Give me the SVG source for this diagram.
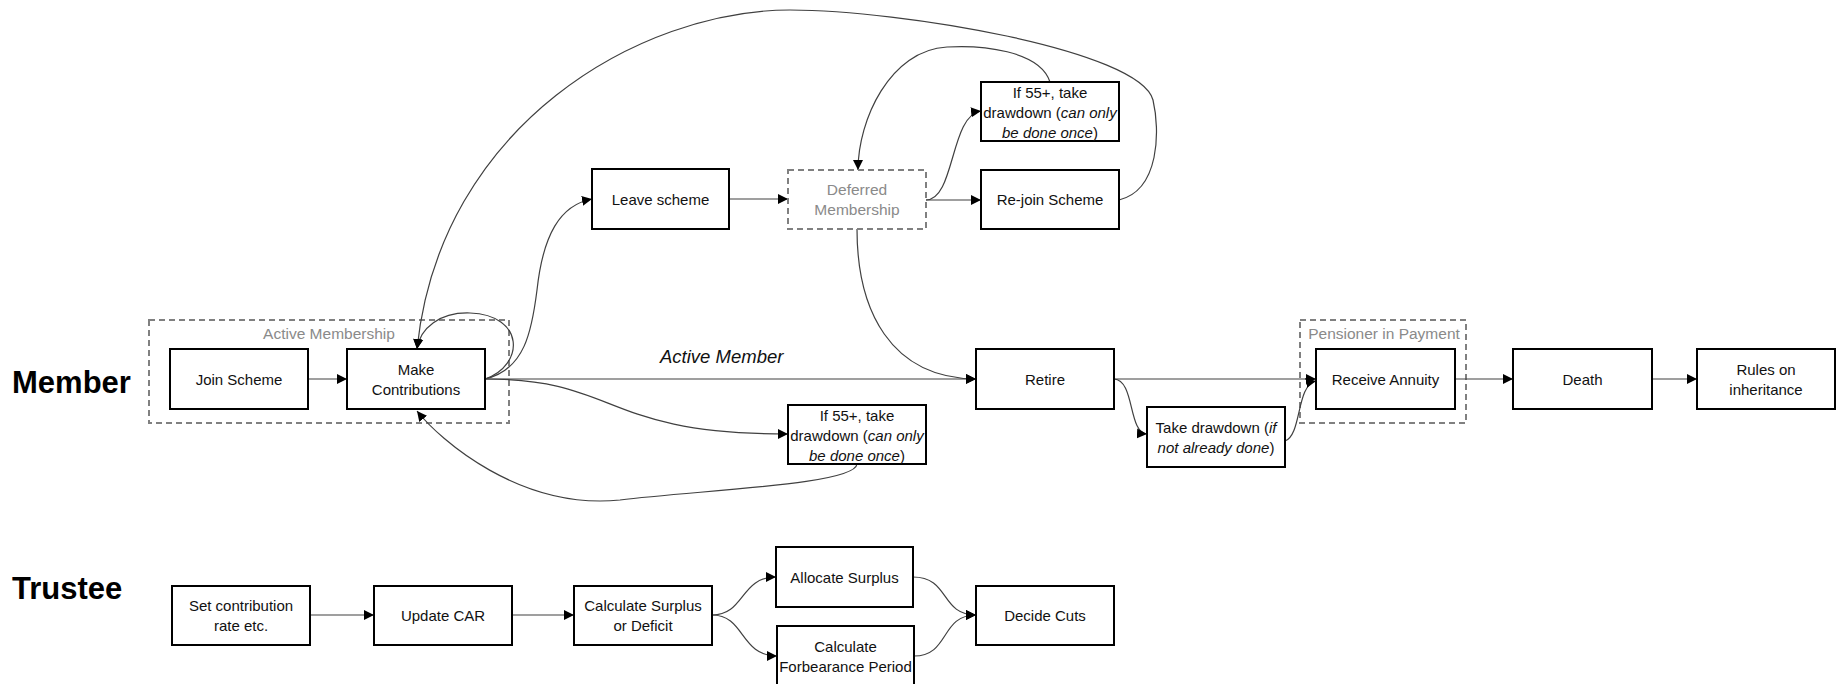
<svg xmlns="http://www.w3.org/2000/svg" width="1837" height="684" viewBox="0 0 1837 684">
<style>
.box{fill:#fff;stroke:#000;stroke-width:2}
.grp{fill:none;stroke:#808080;stroke-width:2;stroke-dasharray:6 4}
.dbox{fill:#fff;stroke:#808080;stroke-width:2;stroke-dasharray:6 4}
.t{font-family:"Liberation Sans",Arial,sans-serif;font-size:15px;fill:#111;text-anchor:middle}
.g{font-family:"Liberation Sans",Arial,sans-serif;font-size:15.5px;fill:#8a8a8a;text-anchor:middle}
.lane{font-family:"Liberation Sans",Arial,sans-serif;font-size:31px;font-weight:bold;fill:#000}
.it{font-style:italic}
.c{fill:none;stroke:#404040;stroke-width:1.2;marker-end:url(#ah)}
</style>
<defs>
<marker id="ah" viewBox="0 0 10 10" markerWidth="10" markerHeight="11" refX="10" refY="5" orient="auto" markerUnits="userSpaceOnUse">
<path d="M0,0 L10,5 L0,10 z" fill="#000"/>
</marker>
</defs>
<rect width="1837" height="684" fill="#fff"/>

<g id="lanes">
<text class="lane" x="12" y="393">Member</text>
<text class="lane" x="12" y="599">Trustee</text>
</g>

<g id="active-membership">
<rect class="grp" x="149" y="320" width="360" height="103"/>
<text class="g" x="329" y="339">Active Membership</text>
</g>
<g id="pensioner-in-payment">
<rect class="grp" x="1300" y="320" width="166" height="103"/>
<text class="g" x="1384" y="339">Pensioner in Payment</text>
</g>

<g id="connectors">
<path class="c" d="M308,379 L347,379"/>
<path class="c" d="M485,379 C525,370 532,330 537,290 C543,235 560,205 592,199"/>
<path class="c" d="M485,379 C525,365 525,315 470,313 C440,312 420,328 417,349"/>
<path class="c" d="M1119,200 C1160,190 1160,130 1153,100 C1140,50 900,10 790,10 C640,10 440,125 417,349"/>
<path class="c" d="M485,379 L976,379"/>
<path class="c" d="M485,379 C620,379 600,434 788,434"/>
<path class="c" d="M857,464 C855,485 700,490 620,500 C520,510 440,440 417,411"/>
<path class="c" d="M729,199 L788,199"/>
<path class="c" d="M926,200 C955,200 950,115 981,111"/>
<path class="c" d="M926,200 L981,200"/>
<path class="c" d="M1050,82 C1040,50 980,45 947,47 C890,50 858,120 858,170"/>
<path class="c" d="M857,229 C857,310 890,378 976,379"/>
<path class="c" d="M1114,379 L1316,379"/>
<path class="c" d="M1114,379 C1135,380 1128,433 1147,434"/>
<path class="c" d="M1285,441 C1302,435 1296,385 1316,381"/>
<path class="c" d="M1455,379 L1513,379"/>
<path class="c" d="M1652,379 L1697,379"/>
<path class="c" d="M310,615 L374,615"/>
<path class="c" d="M512,615 L574,615"/>
<path class="c" d="M712,615 C745,615 740,577 776,577"/>
<path class="c" d="M712,615 C745,615 740,656 777,656"/>
<path class="c" d="M913,577 C950,577 940,615 976,615"/>
<path class="c" d="M914,656 C950,656 940,615 976,615"/>
<text class="t it" x="660" y="363" style="text-anchor:start;font-size:18.5px">Active Member</text>
</g>

<g id="join-scheme"><rect class="box" x="170" y="349" width="138" height="60"/><text class="t" x="239" y="384.5">Join Scheme</text></g>
<g id="make-contributions"><rect class="box" x="347" y="349" width="138" height="60"/><text class="t" x="416" y="374.5">Make</text><text class="t" x="416" y="394.5">Contributions</text></g>
<g id="leave-scheme"><rect class="box" x="592" y="169" width="137" height="60"/><text class="t" x="660.5" y="204.5">Leave scheme</text></g>
<g id="deferred-membership"><rect class="dbox" x="788" y="170" width="138" height="59"/><text class="g" x="857" y="195">Deferred</text><text class="g" x="857" y="215">Membership</text></g>
<g id="drawdown-deferred"><rect class="box" x="981" y="82" width="138" height="59"/><text class="t" x="1050" y="98">If 55+, take</text><text class="t" x="1050" y="118">drawdown (<tspan class="it">can only</tspan></text><text class="t" x="1050" y="137.5"><tspan class="it">be done once</tspan>)</text></g>
<g id="rejoin-scheme"><rect class="box" x="981" y="170" width="138" height="59"/><text class="t" x="1050" y="205">Re-join Scheme</text></g>
<g id="drawdown-active"><rect class="box" x="788" y="405" width="138" height="59"/><text class="t" x="857" y="421">If 55+, take</text><text class="t" x="857" y="441">drawdown (<tspan class="it">can only</tspan></text><text class="t" x="857" y="460.5"><tspan class="it">be done once</tspan>)</text></g>
<g id="retire"><rect class="box" x="976" y="349" width="138" height="60"/><text class="t" x="1045" y="384.5">Retire</text></g>
<g id="take-drawdown"><rect class="box" x="1147" y="407" width="138" height="60"/><text class="t" x="1216" y="432.5">Take drawdown (<tspan class="it">if</tspan></text><text class="t" x="1216" y="452.5"><tspan class="it">not already done</tspan>)</text></g>
<g id="receive-annuity"><rect class="box" x="1316" y="349" width="139" height="60"/><text class="t" x="1385.5" y="384.5">Receive Annuity</text></g>
<g id="death"><rect class="box" x="1513" y="349" width="139" height="60"/><text class="t" x="1582.5" y="384.5">Death</text></g>
<g id="rules-on-inheritance"><rect class="box" x="1697" y="349" width="138" height="60"/><text class="t" x="1766" y="374.5">Rules on</text><text class="t" x="1766" y="394.5">inheritance</text></g>

<g id="set-contribution-rate"><rect class="box" x="172" y="586" width="138" height="59"/><text class="t" x="241" y="611">Set contribution</text><text class="t" x="241" y="631">rate etc.</text></g>
<g id="update-car"><rect class="box" x="374" y="586" width="138" height="59"/><text class="t" x="443" y="621">Update CAR</text></g>
<g id="calculate-surplus"><rect class="box" x="574" y="586" width="138" height="59"/><text class="t" x="643" y="611">Calculate Surplus</text><text class="t" x="643" y="631">or Deficit</text></g>
<g id="allocate-surplus"><rect class="box" x="776" y="547" width="137" height="60"/><text class="t" x="844.5" y="582.5">Allocate Surplus</text></g>
<g id="forbearance-period"><rect class="box" x="777" y="626" width="137" height="60"/><text class="t" x="845.5" y="651.5">Calculate</text><text class="t" x="845.5" y="671.5">Forbearance Period</text></g>
<g id="decide-cuts"><rect class="box" x="976" y="586" width="138" height="59"/><text class="t" x="1045" y="621">Decide Cuts</text></g>
</svg>
